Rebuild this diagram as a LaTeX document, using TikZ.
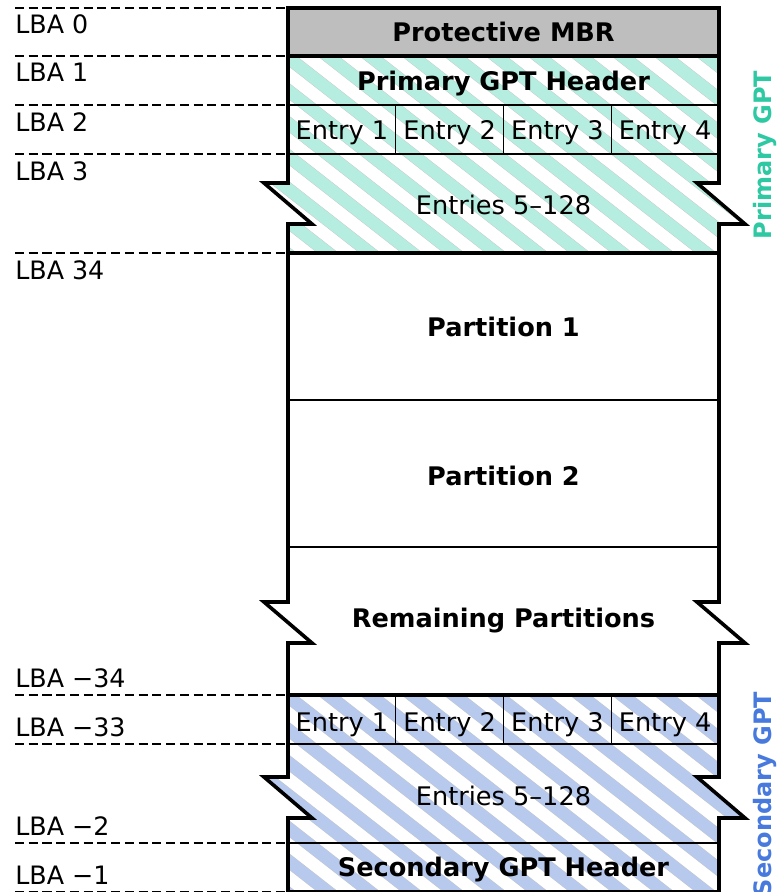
\documentclass[tikz,border=0pt]{standalone}
\usepackage{fontspec}
\setmainfont{DejaVu Sans}

\definecolor{mbrgray}{RGB}{190,190,190}
\definecolor{priband}{RGB}{181,238,224}
\definecolor{secband}{RGB}{184,201,238}
\definecolor{pritext}{RGB}{46,200,162}
\definecolor{sectext}{RGB}{72,122,222}

\tikzset{
  outer/.style={line width=2.7pt},
  inner/.style={line width=1pt},
  lbaline/.style={line width=1pt, dash pattern=on 6.8pt off 3.5pt},
  lba/.style={anchor=base west, inner sep=0pt, font=\fontsize{19}{22}\selectfont},
  title/.style={anchor=base, inner sep=0pt, font=\bfseries\fontsize{19.2}{22}\selectfont},
  plain/.style={anchor=base, inner sep=0pt, font=\fontsize{19.2}{22}\selectfont},
  side/.style={rotate=90, anchor=base, inner sep=0pt, font=\bfseries\fontsize{18}{21}\selectfont},
}

% block outline with a torn edge: top, bottom, top of the tear
\newcommand\torn[3]{(288,#1) -- (288,#3) -- (264,#3) -- (312,#3+41) -- (288,#3+41)
  -- (288,#2) -- (719,#2) -- (719,#3+41) -- (745,#3+41) -- (697,#3) -- (719,#3)
  -- (719,#1) -- cycle}

% diagonal stripes: colour, top of block
\newcommand\hatch[2]{\foreach \k in {-220,-178,...,660}
  \draw[gray!45, line width=0.3pt, double=#1, double distance=9.2pt] (\k,#2-100) -- ++(38:700);}

\begin{document}
\begin{tikzpicture}[x=0.75pt,y=-0.75pt]
\useasboundingbox (0,0) rectangle (780,892);

% protective MBR
\draw[outer, fill=mbrgray] (288,8) rectangle (719,56);

% primary GPT
\begin{scope}
  \clip \torn{56}{253}{183};
  \hatch{priband}{56}
\end{scope}
\draw[inner] (288,105) -- (719,105);
\draw[inner] (288,154) -- (719,154);
\foreach \x in {395.75,503.5,611.25}
  \draw[inner] (\x,105) -- (\x,154);
\draw[outer] \torn{56}{253}{183};

% partitions
\draw[inner] (288,400) -- (719,400);
\draw[inner] (288,547) -- (719,547);
\draw[outer] \torn{253}{695}{602};

% secondary GPT
\begin{scope}
  \clip \torn{695}{892}{777};
  \hatch{secband}{695}
\end{scope}
\draw[inner] (288,744) -- (719,744);
\draw[inner] (288,843) -- (719,843);
\foreach \x in {395.75,503.5,611.25}
  \draw[inner] (\x,695) -- (\x,744);
\draw[outer] \torn{695}{892}{777};

% texts
\node[title] (mbr) at (503.5,41.5) {Protective MBR};
\node[title] (hdr1) at (503.5,90) {Primary GPT Header};
\foreach \i/\x in {1/342,2/449.6,3/557.4,4/665.1} {
  \node[plain] (pe\i) at (\x,139) {Entry \i};
  \node[plain] (se\i) at (\x,731.5) {Entry \i};
}
\node[plain] (prest) at (503.5,214.5) {Entries 5–128};
\node[title] (part1) at (503.5,336.5) {Partition 1};
\node[title] (part2) at (503.5,485.5) {Partition 2};
\node[title] (parts) at (503.5,627.5) {Remaining Partitions};
\node[plain] (srest) at (503.5,805.5) {Entries 5–128};
\node[title] (hdr2) at (503.5,876.5) {Secondary GPT Header};

\node[side, text=pritext] (prigpt) at (771,155) {Primary GPT};
\node[side, text=sectext] (secgpt) at (771,794) {Secondary GPT};

% LBA marks
\foreach \y/\t [count=\n] in {8/0,56/1,105/2,154/3,253/34} {
  \draw[lbaline] (15,\y) -- (288,\y);
  \node[lba] (lbap\n) at (15,\y+26) {LBA \t};
}
\foreach \y/\t [count=\n] in {695/34,744/33,843/2,892/1} {
  \draw[lbaline] (15,\y) -- (288,\y);
  \node[lba] (lbam\n) at (15,\y-7.5) {LBA −\t};
}

\end{tikzpicture}
\end{document}
